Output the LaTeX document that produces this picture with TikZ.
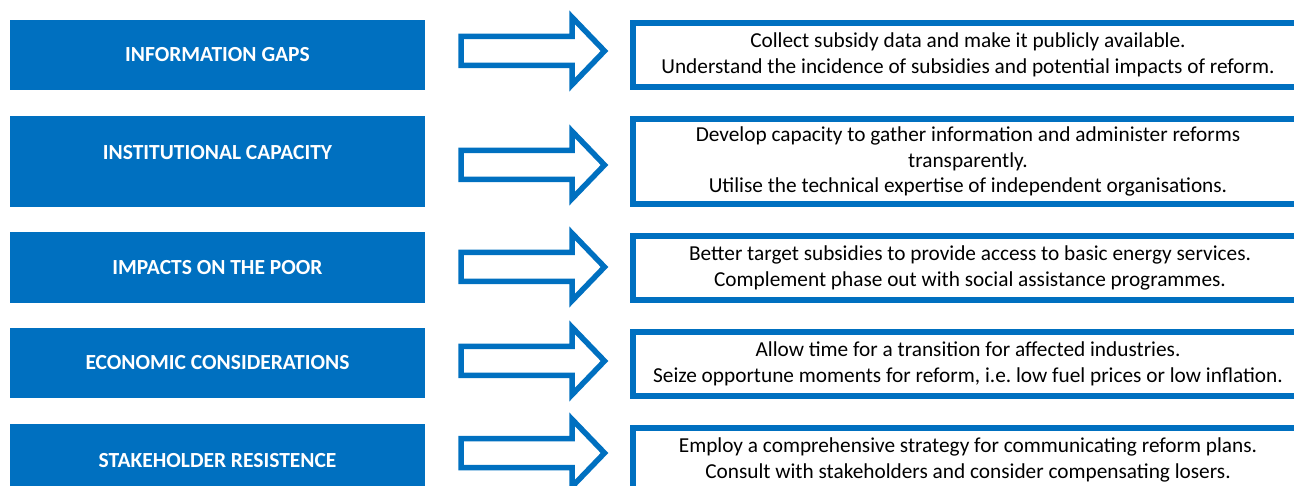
\documentclass[tikz,border=0pt]{standalone}
\usepackage{fontspec}
\setmainfont{Carlito}
\frenchspacing
\definecolor{officeblue}{HTML}{0070C0}
\begin{document}
\begin{tikzpicture}[x=1pt,y=-1pt,
                    issue/.style={fill=officeblue, text=white, inner sep=0,
                                  minimum width=415, font=\bfseries\fontsize{21.5}{25}\selectfont},
                    frame/.style={draw=officeblue, line width=6},
                    action/.style={align=center, inner sep=0, font=\fontsize{21.3}{25.5}\selectfont},
                    blockarrow/.style={draw=officeblue, line width=5.5, fill=white, line join=miter}
                    ]
        \useasboundingbox (0,0) rectangle (1294,486);

        % left column
        \node[issue, minimum height=70] (Iss1) at (217.5,54.85) {INFORMATION GAPS};
        \node[issue, minimum height=91, text depth=18] (Iss2) at (217.5,161.35) {INSTITUTIONAL CAPACITY};
        \node[issue, minimum height=71] (Iss3) at (217.5,267.5) {IMPACTS ON THE POOR};
        \node[issue, minimum height=70] (Iss4) at (217.5,363) {ECONOMIC CONSIDERATIONS};
        \node[issue, minimum height=74] (Iss5) at (217.5,461) {STAKEHOLDER RESISTENCE};

        % block arrows
        \foreach \y in {51,165,267,361,453} {
            \draw[blockarrow] (461,\y-14.5) -- (572,\y-14.5) -- (572,\y-33.75) -- (604.5,\y)
            -- (572,\y+33.75) -- (572,\y+14.5) -- (461,\y+14.5) -- cycle;
        }

        % right column
        \draw[frame] (633,23) rectangle (1320,87);
        \draw[frame] (633,119) rectangle (1320,204);
        \draw[frame] (633,236) rectangle (1320,300);
        \draw[frame] (633,332) rectangle (1320,396);
        \draw[frame] (633,428) rectangle (1320,520);

        \node[action] (Act1) at (968,55) {Collect subsidy data and make it publicly available.\\
            Understand the incidence of subsidies and potential impacts of reform.};
        \node[action] (Act2) at (968,161.5) {Develop capacity to gather information and administer reforms\\
            transparently.\\ Utilise the technical expertise of independent organisations.};
        \node[action] (Act3) at (970,268) {Better target subsidies to provide access to basic energy services.\\
            Complement phase out with social assistance programmes.};
        \node[action] (Act4) at (968,364) {Allow time for a transition for affected industries.\\
            Seize opportune moments for reform, i.e.\ low fuel prices or low inflation.};
        \node[action] (Act5) at (968,460) {Employ a comprehensive strategy for communicating reform plans.\\
            Consult with stakeholders and consider compensating losers.};
    \end{tikzpicture}
\end{document}
